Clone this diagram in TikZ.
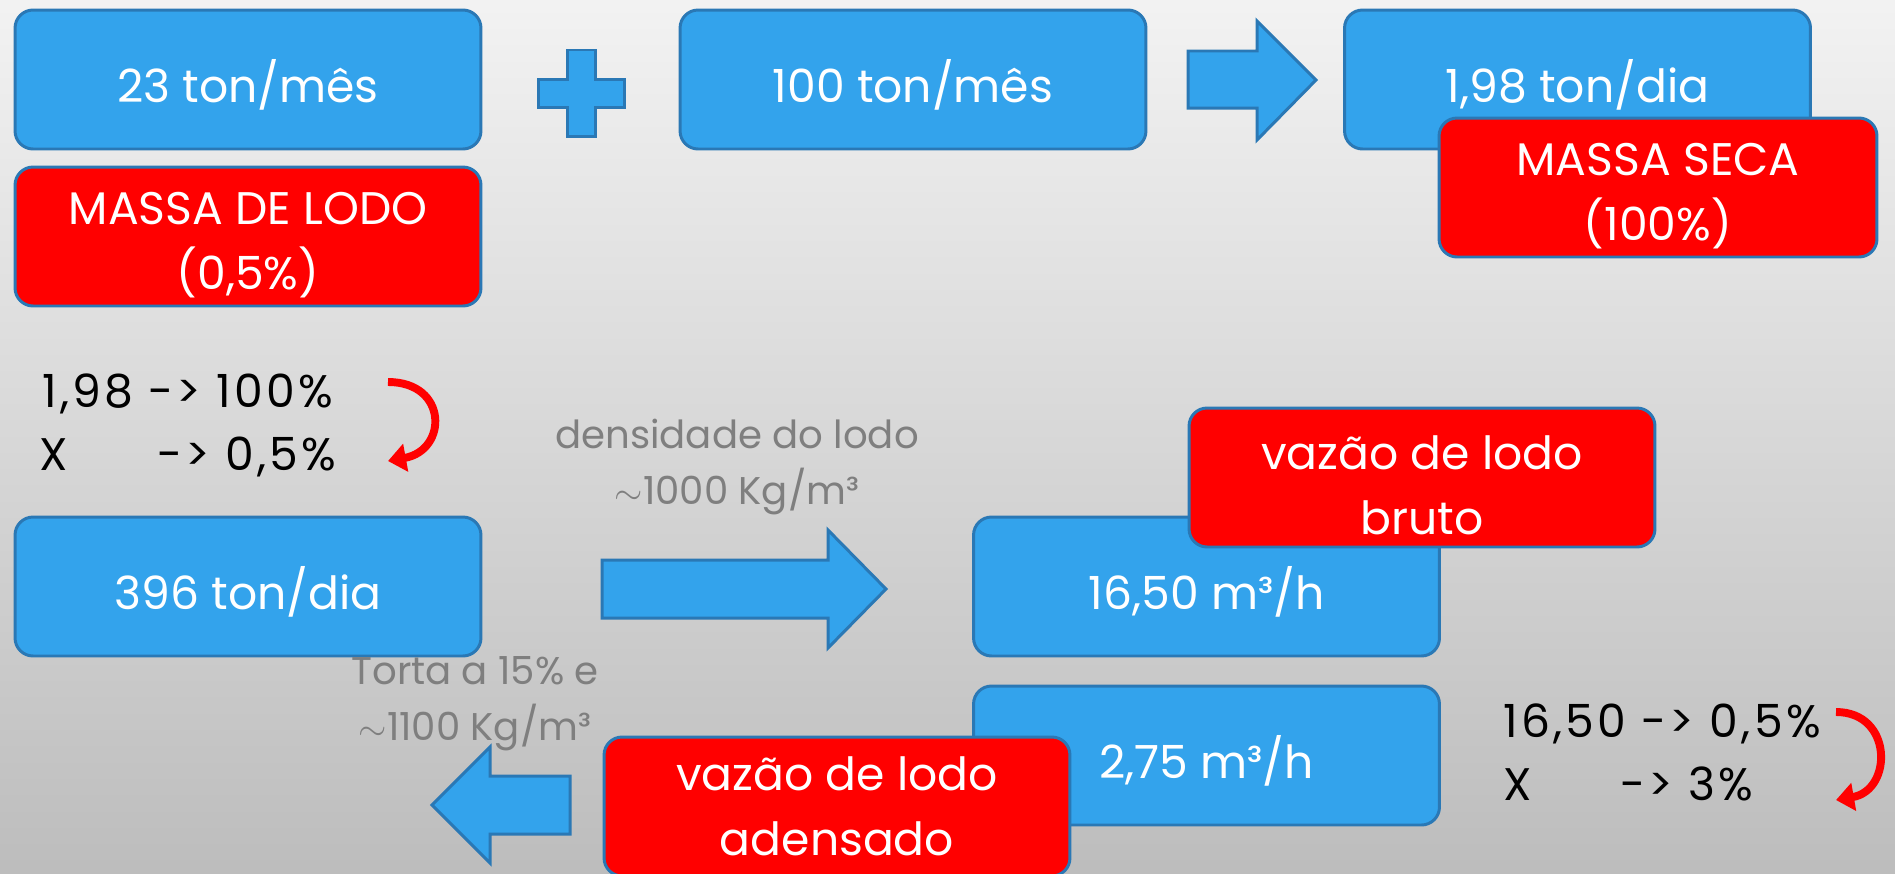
\documentclass[tikz,border=0pt]{standalone}
\usepackage{fontspec}
\setmainfont{Poppins}
\usetikzlibrary{positioning,arrows.meta}
\definecolor{boxblue}{HTML}{33A3EC}
\definecolor{lineblue}{HTML}{2A78B5}
\definecolor{boxred}{HTML}{FF0000}
\definecolor{notegray}{HTML}{7F7F7F}
\newcommand\bigtext{\fontsize{26}{37}\selectfont}
\newcommand\notetext{\fontsize{22}{32}\selectfont}
\newcommand\ruletext{\fontsize{26}{37}\selectfont\addfontfeature{LetterSpace=7}}
\newcommand\approxsign{$\sim$}
\newcommand\topstrut{\rule{0pt}{1cm}}
\tikzset{
  roundbox/.style={draw=lineblue, line width=1.7pt, rounded corners=0.36cm,
    minimum width=9.32cm, minimum height=2.78cm, text=white, font=\bigtext, align=center},
  bluebox/.style={roundbox, fill=boxblue, text height=1.08cm, text depth=0.16cm},
  redbox/.style={roundbox, fill=boxred},
  blockarrow/.style={draw=lineblue, line width=1.7pt, fill=boxblue, line join=miter},
  note/.style={text=notegray, font=\notetext, align=center},
  rule/.style={font=\ruletext, anchor=base west, inner sep=0pt},
  bendarrow/.style={draw=red, line width=4.5pt, -{Triangle[length=0.36cm,width=0.55cm]}}
}
\begin{document}
\begin{tikzpicture}[x=0.02cm,y=-0.02cm]
\useasboundingbox (0,0) rectangle (1895,873);
\shade[top color=black!5, bottom color=black!26] (0,0) rectangle (1895,873);
\node[bluebox] (mes23) at (248,79.5) {23 ton/mês};
\node[redbox] (lodo) at (248,236.5) {\topstrut MASSA DE LODO\\(0,5\%)};
\node[bluebox] (mes100) at (913,79.5) {100 ton/mês};
\node[bluebox] (dia198) at (1577.5,79.5) {1,98 ton/dia};
\node[redbox, minimum width=8.76cm] (seca) at (1658,187.5) {\topstrut MASSA SECA\\(100\%)};
\node[bluebox] (dia396) at (248,586.5) {396 ton/dia};
\node[bluebox] (vazao1650) at (1206.5,586.5) {16,50 m³/h};
\node[redbox] (bruto) at (1422,477.5) {\topstrut vazão de lodo\\bruto};
\node[bluebox] (vazao275) at (1206.5,755.5) {2,75 m³/h};
\node[redbox] (adensado) at (837,806.5) {vazão de lodo\\adensado};
\draw[blockarrow] (567,50) -- (595,50) -- (595,79) -- (624,79) -- (624,107) -- (595,107)
  -- (595,136) -- (567,136) -- (567,107) -- (538,107) -- (538,79) -- (567,79) -- cycle;
\draw[blockarrow] (1188,51) -- (1257,51) -- (1257,21) -- (1316,80) -- (1257,140) -- (1257,108) -- (1188,108) -- cycle;
\draw[blockarrow] (602,560) -- (828,560) -- (828,530) -- (886,589) -- (828,648) -- (828,618) -- (602,618) -- cycle;
\draw[blockarrow] (570,776) -- (490,776) -- (490,747) -- (432,805) -- (490,863) -- (490,834) -- (570,834) -- cycle;
\node[note] (densidade) at (737,467) {densidade do lodo\\\approxsign1000 Kg/m³};
\node[note] (torta) at (475,704) {Torta a 15\% e\\\approxsign1100 Kg/m³};
\node[rule] (rule1a) at (42,407) {1,98 -> 100\%};
\node[rule] (rule1b) at (39,470) {\makebox[2.36cm][l]{X}-> 0,5\%};
\node[rule] (rule2a) at (1503,737) {16,50 -> 0,5\%};
\node[rule] (rule2b) at (1503,800) {\makebox[2.34cm][l]{X}-> 3\%};
\coordinate (bend1s) at (388,382);
\coordinate (bend1e) at (388,461);
\coordinate (bend2s) at (1836,712);
\coordinate (bend2e) at (1836,800);
\draw[bendarrow] (bend1s) .. controls +(60,0) and +(60,-11) .. (bend1e);
\draw[bendarrow] (bend2s) .. controls +(57,0) and +(57,-10) .. (bend2e);
\end{tikzpicture}
\end{document}
